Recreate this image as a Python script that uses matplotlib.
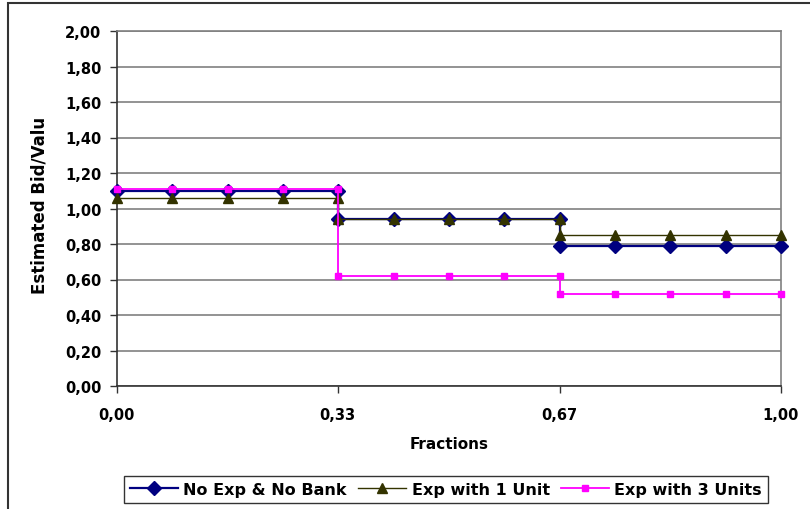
import matplotlib.pyplot as plt
from matplotlib.patches import Rectangle
from matplotlib.ticker import FuncFormatter

# data
fractions = [0.0, 0.083, 0.167, 0.25, 0.333,
             0.333, 0.417, 0.5, 0.583, 0.667,
             0.667, 0.75, 0.833, 0.917, 1.0]
no_exp = [1.10, 1.10, 1.10, 1.10, 1.10,
          0.94, 0.94, 0.94, 0.94, 0.94,
          0.79, 0.79, 0.79, 0.79, 0.79]
exp_1 = [1.06, 1.06, 1.06, 1.06, 1.06,
         0.94, 0.94, 0.94, 0.94, 0.94,
         0.85, 0.85, 0.85, 0.85, 0.85]
exp_3 = [1.11, 1.11, 1.11, 1.11, 1.11,
         0.62, 0.62, 0.62, 0.62, 0.62,
         0.52, 0.52, 0.52, 0.52, 0.52]
x_ticks = [0.0, 0.333, 0.667, 1.0]
x_labels = ["0,00", "0,33", "0,67", "1,00"]

plt.rcParams['font.family'] = ['DejaVu Sans']
plt.rcParams['font.weight'] = 'bold'

fig = plt.figure(figsize=(8.1, 5.1), dpi=100)
ax = fig.add_axes([116.7 / 810, 123 / 510, 664 / 810, 355 / 510])

ax.plot(fractions, no_exp, color='#000080', lw=1.6, marker='D', ms=7,
        mfc='#000080', mec='#000080', label="No Exp & No Bank", zorder=3, clip_on=False)
ax.plot(fractions, exp_1, color='#333300', lw=1.0, marker='^', ms=7,
        mfc='#333300', mec='#333300', label="Exp with 1 Unit", zorder=4, clip_on=False)
ax.plot(fractions, exp_3, color='#FF00FF', lw=1.3, marker='s', ms=5,
        mfc='#FF00FF', mec='#FF00FF', label="Exp with 3 Units", zorder=5, clip_on=False)

ax.set_xlim(0, 1)
ax.set_ylim(0, 2)
ax.set_yticks([i * 0.2 for i in range(11)])
ax.yaxis.set_major_formatter(FuncFormatter(lambda v, p: f"{v:.2f}".replace('.', ',')))
ax.set_xticks(x_ticks)
ax.set_xticklabels(x_labels)
ax.tick_params(axis='both', direction='out', length=5, width=1, labelsize=10.5, color='#333333')
ax.tick_params(axis='y', pad=6)
ax.tick_params(axis='x', pad=10)

ax.grid(axis='y', color='#808080', lw=1.2)
ax.set_axisbelow(True)
for s in ['top', 'right']:
    ax.spines[s].set_color('#808080')
    ax.spines[s].set_linewidth(1.2)
for s in ['left', 'bottom']:
    ax.spines[s].set_color('#333333')
    ax.spines[s].set_linewidth(1.2)

ax.set_xlabel("Fractions", fontsize=11, fontweight='bold', labelpad=10)

# y label is cut off at the top in the original
yl = fig.text(40 / 810, 216 / 510, "Estimated Bid/Value", rotation=90,
              ha='center', va='bottom', fontsize=12, fontweight='bold')
clip = Rectangle((0, 0), 1, 390 / 510, transform=fig.transFigure, visible=False)
fig.add_artist(clip)
yl.set_clip_path(clip)

leg = fig.legend(loc='center', bbox_to_anchor=(446 / 810, 19.5 / 510), ncol=3,
                 frameon=True, fancybox=False, shadow=False, fontsize=11.5,
                 handlelength=3, handletextpad=0.35, columnspacing=0.7,
                 borderpad=0.35, borderaxespad=0)
leg.get_frame().set_edgecolor('black')
leg.get_frame().set_linewidth(1.0)

# outer chart border
fig.add_artist(Rectangle((8 / 810, -0.1), 1.0, 1.1 - 4 / 510, transform=fig.transFigure,
                         fill=False, ec='#333333', lw=1.5))

fig.savefig("out.png", dpi=100)
